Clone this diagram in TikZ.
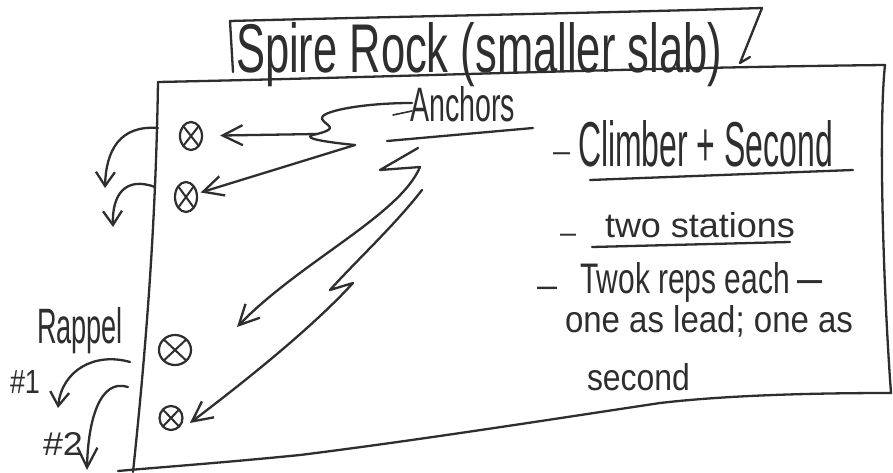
\documentclass[tikz,border=0pt]{standalone}
\usepackage{fontspec}
\setmainfont{Liberation Sans}
\usetikzlibrary{arrows.meta,shapes.geometric}
\definecolor{ink}{HTML}{2E2E2E}
% text squeezed into a given width and height (pt)
\newcommand{\sizedtext}[3]{\resizebox{#1pt}{#2pt}{#3}}
% a bullet dash of a given width (pt)
\newcommand{\sizeddash}[1]{\resizebox{#1pt}{!}{\textendash}}
\tikzset{
  pen/.style={draw=ink, line width=2.3pt, line cap=round, line join=round},
  thinpen/.style={draw=ink, line width=1.6pt, line cap=round},
  bigbarb/.style={-{Straight Barb[length=20pt,width=20pt]}},
  smallbarb/.style={-{Straight Barb[length=14pt,width=19pt]}},
  hand/.style={inner sep=0pt, outer sep=0pt, anchor=base west, text=ink},
  anchorsym/.style={ellipse, draw=ink, line width=2.2pt, inner sep=0pt,
    path picture={\draw[ink, line width=2pt]
      (path picture bounding box.north west) -- (path picture bounding box.south east)
      (path picture bounding box.north east) -- (path picture bounding box.south west);}},
}
\begin{document}
\begin{tikzpicture}[x=1pt,y=-1pt]
\fill[white] (0,0) rectangle (893,473);
\useasboundingbox (0,0) rectangle (893,473);

% title tab
\draw[pen] (233,72) -- (230,21) .. controls (420,16) and (600,13) .. (762,8) -- (740,63) -- (750,57);
% the slab outline
\draw[pen] (158,82) .. controls (400,77) and (620,68) .. (885,65)
  .. controls (878,130) and (884,300) .. (891,393)
  .. controls (800,393) and (720,396) .. (660,403)
  .. controls (560,418) and (420,440) .. (300,455)
  .. controls (220,463) and (150,468) .. (118,471);
\draw[pen] (158,82) .. controls (156,210) and (148,330) .. (133,472);

% labels
\node[hand] (title) at (236,73) {\sizedtext{486}{50}{Spire Rock (smaller slab)}};
\node[hand] (lbl) at (410,122) {\sizedtext{105}{35}{Anchors}};
\draw[pen] (387,141) -- (533,128);

\node[hand] (d1) at (553,161) {\sizeddash{17}};
\node[hand] (t1) at (578,167) {\sizedtext{255}{46}{Climber + Second}};
\draw[pen] (590,180) -- (853,170);
\node[hand] (d2) at (560,242) {\sizeddash{16}};
\node[hand] (t2) at (605,237) {\sizedtext{190}{25}{two stations}};
\draw[pen] (592,247) -- (790,242);
\node[hand] (d3) at (537,297) {\sizeddash{20}};
\node[hand] (t3) at (580,293) {\sizedtext{210}{31}{Twok reps each}};
\node[hand] (d4) at (797,293) {\sizeddash{25}};
\node[hand] (t4) at (565,332) {\sizedtext{288}{27}{one as lead; one as}};
\node[hand] (t5) at (587,390) {\sizedtext{103}{27}{second}};

\node[hand] (rap) at (37,343) {\sizedtext{86}{36}{Rappel}};
\node[hand] (n1) at (10,393) {\sizedtext{30}{23}{\#1}};
\node[hand] (n2) at (43,455) {\sizedtext{40}{23}{\#2}};

% anchor bolts
\node[anchorsym, minimum width=22pt, minimum height=28pt] (a1) at (191,136) {};
\node[anchorsym, minimum width=22pt, minimum height=30pt] (a2) at (186,197) {};
\node[anchorsym, minimum width=32pt, minimum height=30pt] (a3) at (175,350) {};
\node[anchorsym, minimum width=23pt, minimum height=24pt] (a4) at (171,418) {};

% zigzag leaders from the label
\coordinate (z0) at (412,103);
\coordinate (s1) at (317,134);
\coordinate (s2) at (355,145);
\draw[pen] (z0) .. controls (360,103) and (318,112) .. (322,119)
  .. controls (326,126) and (340,128) .. (s1)
  .. controls (300,137) and (315,141) .. (s2);
\draw[thinpen] (412,111) -- (393,115);
\draw[pen, bigbarb, shorten >=17pt] (s1) -- (a1);
\draw[pen, bigbarb, shorten >=3pt] (s2) -- (a2);

\coordinate (b1) at (418,148);
\coordinate (tip3) at (237,327);
\draw[pen, bigbarb] (b1) -- (380,170) -- (420,167)
  .. controls (400,215) and (300,262) .. (tip3);
\coordinate (b2) at (422,190);
\coordinate (tip4) at (190,423);
\draw[pen, bigbarb] (b2) .. controls (395,225) and (355,262) .. (330,290) -- (353,283)
  .. controls (310,330) and (240,385) .. (tip4);

% rappel lines off the edge
\coordinate (r1) at (158,128);
\coordinate (r1e) at (105,188);
\draw[pen, smallbarb] (r1) .. controls (120,125) and (106,150) .. (r1e);
\coordinate (r2) at (155,187);
\coordinate (r2e) at (113,227);
\draw[pen, smallbarb] (r2) .. controls (125,176) and (112,195) .. (r2e);
\coordinate (r3) at (130,362);
\coordinate (r3e) at (58,408);
\draw[pen, smallbarb] (r3) .. controls (95,352) and (62,370) .. (r3e);
\coordinate (r4) at (128,387);
\coordinate (r4e) at (87,470);
\draw[pen, bigbarb] (r4) .. controls (100,378) and (88,420) .. (r4e);
\end{tikzpicture}
\end{document}
